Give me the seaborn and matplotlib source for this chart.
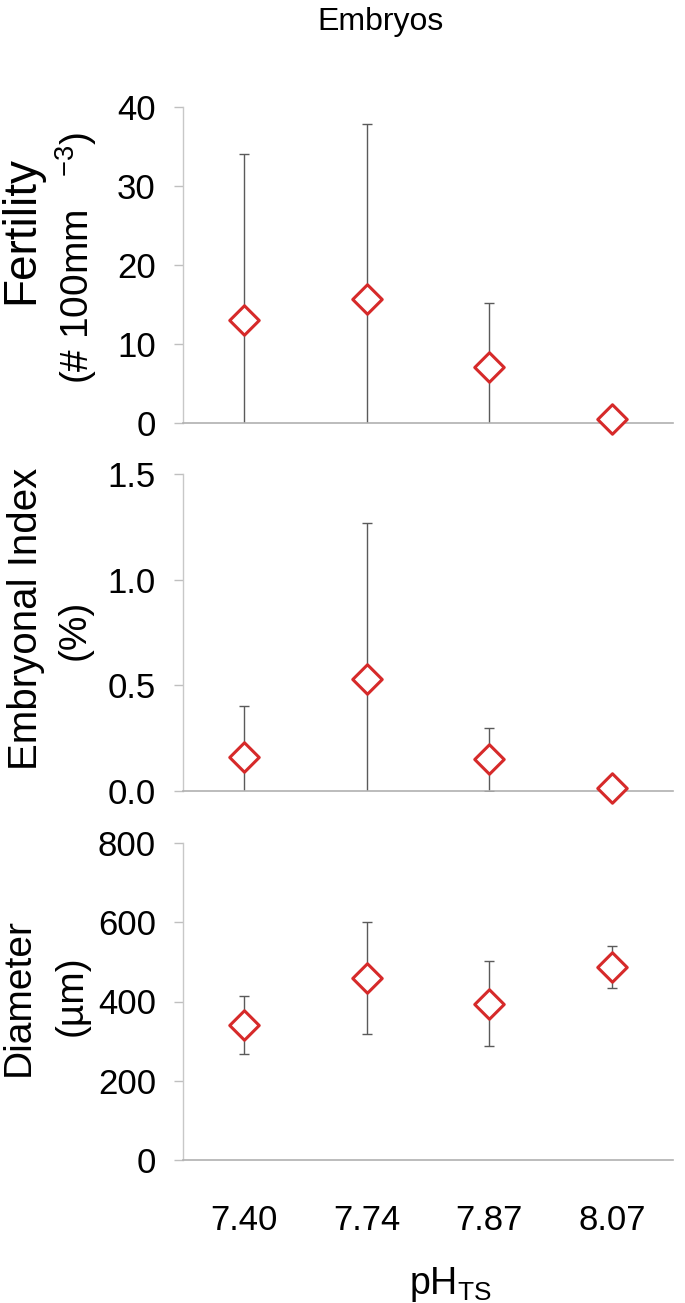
import numpy as np
import pandas as pd
import matplotlib.pyplot as plt
import seaborn as sns

ph = ["7.40", "7.74", "7.87", "8.07"]
fertility = [13.1, 15.7, 7.1, 0.5]
fertility_sd = [20.9, 22.1, 8.1, 0.0]
embryo_index = [0.16, 0.53, 0.15, 0.015]
embryo_index_sd = [0.24, 0.74, 0.15, 0.0]
diameter = [341, 459, 394, 487]
diameter_sd = [73, 142, 107, 52]

sns.set_style("white")
plt.rcParams['font.family'] = ['Liberation Sans', 'DejaVu Sans']
plt.rcParams['mathtext.fontset'] = 'custom'
plt.rcParams['mathtext.rm'] = 'Liberation Sans'
plt.rcParams['mathtext.it'] = 'Liberation Sans'
plt.rcParams['text.color'] = 'black'
plt.rcParams['axes.labelcolor'] = 'black'
plt.rcParams['xtick.labelcolor'] = 'black'
plt.rcParams['ytick.labelcolor'] = 'black'

red = '#d62a2a'
grey = '#5a5a5a'

fig = plt.figure(figsize=(6.85, 13.03), dpi=100)
W, H = 685, 1303

def make_ax(top, bottom):
    return fig.add_axes([183 / W, 1 - bottom / H, 490 / W, (bottom - top) / H])

# (top px, bottom px, values, sd, ylim, yticks, format, label lines)
panels = [
    (107, 423, fertility, fertility_sd, (0, 40), [0, 10, 20, 30, 40], None,
     [("Fertility", 21, 230, 33), ("(# 100mm   $^{-3}$)", 76, 258, 28)]),
    (474, 791, embryo_index, embryo_index_sd, (0, 1.5), [0, 0.5, 1.0, 1.5], "%.1f",
     [("Embryonal Index", 26, 619, 29), ("(%)", 75, 630, 28)]),
    (843, 1160, diameter, diameter_sd, (0, 800), [0, 200, 400, 600, 800], None,
     [("Diameter", 19, 997, 28), ("(µm)", 72, 996, 28)]),
]

axes = []
for top, bottom, vals, sd, ylim, yt, fmt, labels in panels:
    ax = make_ax(top, bottom)
    df = pd.DataFrame({"pH": ph, "val": vals})
    xpos = np.arange(len(ph))
    ax.errorbar(xpos, vals, yerr=sd, fmt='none', ecolor=grey, elinewidth=1.0,
                capsize=3.5, capthick=1.0, zorder=2)
    n_before = len(ax.collections)
    sns.scatterplot(data=df, x="pH", y="val", marker='D', s=225,
                    facecolor='white', edgecolor=red, linewidth=2.2,
                    zorder=3, ax=ax)
    for c in ax.collections[n_before:]:
        c.set_clip_on(False)
    ax.set_xlim(-0.5, 3.5)
    ax.set_ylim(*ylim)
    ax.set_yticks(yt)
    if fmt:
        ax.set_yticklabels([fmt % v for v in yt])
    ax.tick_params(axis='y', length=6.5, width=1, color='#bfbfbf', pad=13,
                   labelsize=25, left=True)
    ax.tick_params(axis='x', length=0, labelbottom=False)
    for s in ['top', 'right']:
        ax.spines[s].set_visible(False)
    ax.spines['left'].set_color('#c8c8c8')
    ax.spines['bottom'].set_color('#b0b0b0')
    ax.spines['left'].set_linewidth(1)
    ax.spines['bottom'].set_linewidth(1.2)
    ax.set_xlabel("")
    ax.set_ylabel("")
    for txt, xc, yc, fs in labels:
        fig.text(xc / W, 1 - yc / H, txt, rotation=90, ha='center', va='center',
                 fontsize=fs)
    axes.append(ax)

axb = axes[-1]
axb.set_xticks(np.arange(len(ph)))
axb.set_xticklabels(ph)
axb.tick_params(axis='x', labelbottom=True, labelsize=25, pad=32)
axb.set_xlabel(r"pH$_{\mathrm{TS}}$", fontsize=27)
axb.xaxis.set_label_coords(0.545, -0.33)

fig.text(380 / W, 1 - 22 / H, "Embryos", ha='center', va='center', fontsize=23)

fig.savefig("out.png", dpi=100)
